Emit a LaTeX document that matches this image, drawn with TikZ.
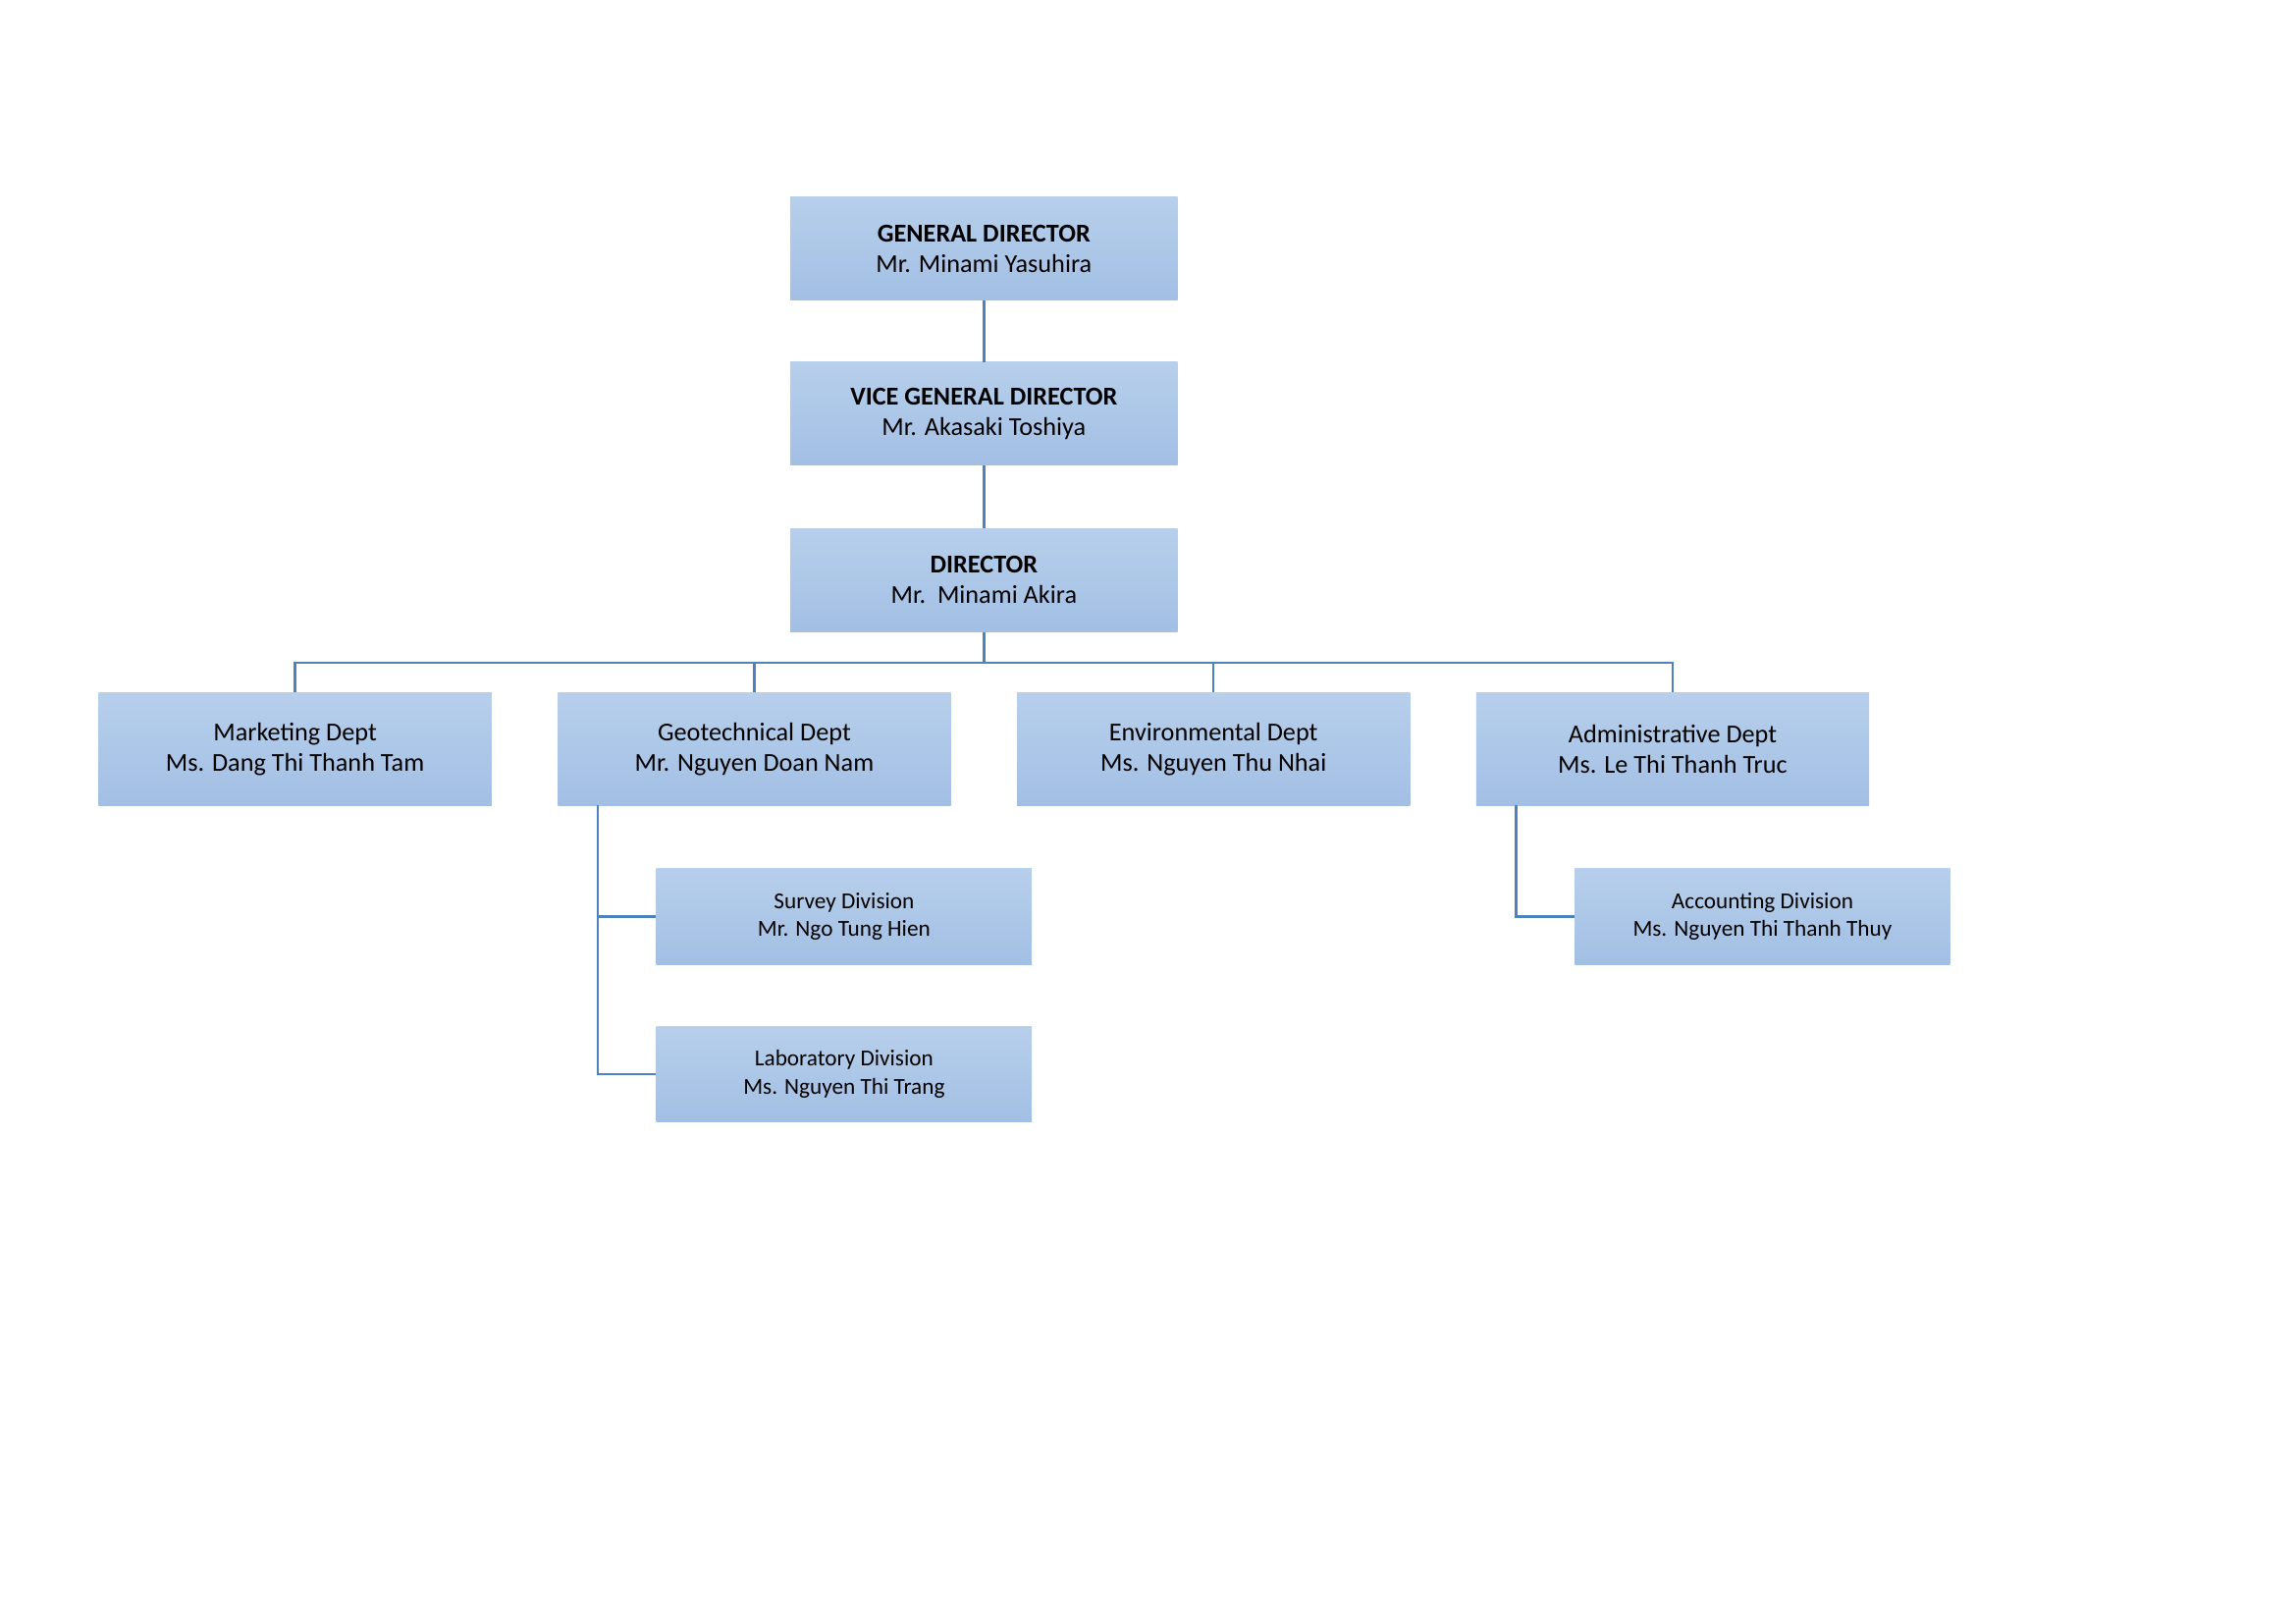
\documentclass[tikz,border=0pt]{standalone}
\usepackage{fontspec}
\setmainfont{Carlito}
\begin{document}
\begin{tikzpicture}[x=1pt,y=-1pt,
  box/.style={draw=none,top color=boxtop,bottom color=boxbot,align=center,inner sep=0pt},
  big/.style={box,minimum width=267pt,font=\fontsize{17.5}{20.5}\selectfont},
  top/.style={big,minimum height=70pt},
  dept/.style={big,minimum height=77pt},
  div/.style={box,minimum width=255pt,minimum height=65pt,font=\fontsize{15.5}{19}\selectfont},
  ln/.style={draw=linec,line width=1.6pt}]
\definecolor{boxtop}{HTML}{B7CFEB}
\definecolor{boxbot}{HTML}{A2BFE4}
\definecolor{linec}{HTML}{4F81BD}
\useasboundingbox (0,0) rectangle (1560,1103);
\node[top,minimum width=263pt] (gd) at (668.5,169) {\textbf{GENERAL DIRECTOR}\\Mr. Minami Yasuhira};
\node[top,minimum width=263pt] (vgd) at (668.5,281) {\textbf{VICE GENERAL DIRECTOR}\\Mr. Akasaki Toshiya};
\node[top,minimum width=263pt] (dir) at (668.5,394) {\textbf{DIRECTOR}\\Mr.\ \ Minami Akira};
\node[dept] (mk) at (200.5,509) {Marketing Dept\\Ms. Dang Thi Thanh Tam};
\node[dept] (geo) at (512.5,509) {Geotechnical Dept\\Mr. Nguyen Doan Nam};
\node[dept] (env) at (824.5,509) {Environmental Dept\\Ms. Nguyen Thu Nhai};
\node[dept] (adm) at (1136.5,509) {Administrative Dept\\Ms. Le Thi Thanh Truc};
\node[div] (sur) at (573.5,622.5) {Survey Division\\Mr. Ngo Tung Hien};
\node[div] (lab) at (573.5,729.5) {Laboratory Division\\Ms. Nguyen Thi Trang};
\node[div] (acc) at (1197.5,622.5) {Accounting Division\\Ms. Nguyen Thi Thanh Thuy};
\coordinate (bus) at (668.5,450);
\draw[ln] (gd) -- (vgd);
\draw[ln] (vgd) -- (dir);
\draw[ln] (dir) -- (bus);
\draw[ln] (mk.north) -- (mk.north |- bus) -- (adm.north |- bus) -- (adm.north);
\draw[ln] (geo.north) -- (geo.north |- bus);
\draw[ln] (env.north) -- (env.north |- bus);
\coordinate (gs) at (406,547);
\coordinate (as) at (1030,547);
\draw[ln] (gs) |- (sur.west);
\draw[ln] (gs) |- (lab.west);
\draw[ln] (as) |- (acc.west);
\end{tikzpicture}
\end{document}
